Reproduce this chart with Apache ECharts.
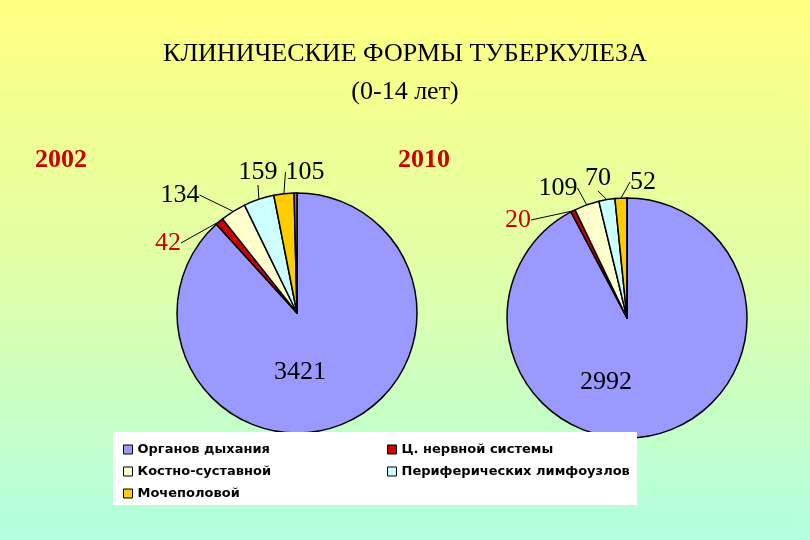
<!DOCTYPE html>
<html><head><meta charset="utf-8">
<script src="https://cdn.jsdelivr.net/npm/echarts@6/dist/echarts.min.js"></script>
<style>html,body{margin:0;padding:0}#main{width:810px;height:540px}</style>
</head><body><div id="main"></div>
<script>
let chart = echarts.init(document.getElementById('main'));

let categories = ['Органов дыхания', 'Ц. нервной системы', 'Костно-суставной', 'Периферических лимфоузлов', 'Мочеполовой', 'Прочие'];
let values2002 = [3421, 42, 134, 159, 105, 15];
let values2010 = [2992, 20, 109, 70, 52, 0];
let colors = ['#9999ff', '#cc0000', '#ffffcc', '#ccffff', '#ffcc00', '#808080'];

// label anchor points, one list per pie
let labelPos = [
	[[300, 372], [168, 243], [180, 195], [258, 172], [305, 172], null],
	[[606, 382], [518, 220], [558, 188], [598, 178], [643, 182], null]
];

function makeData(vals) {
	return vals.map(function (v, i) {
		let item = { name: categories[i], value: v, itemStyle: { color: colors[i] } };
		if (i == 0) {
			item.label = { position: 'inside' };
			item.labelLine = { show: false };
		}
		if (i == 1) item.label = { color: '#cc0000' };
		if (i == 5) { item.label = { show: false }; item.labelLine = { show: false }; }
		return item;
	});
}

function pie(center, vals, k) {
	return {
		type: 'pie',
		center: center,
		radius: 120,
		startAngle: 90,
		clockwise: true,
		silent: true,
		data: makeData(vals),
		itemStyle: { borderColor: '#000', borderWidth: 1.5 },
		label: {
			show: true,
			formatter: '{c}',
			fontFamily: 'Liberation Serif',
			fontSize: 26,
			color: '#000'
		},
		labelLine: { show: true, length: 8, length2: 0, lineStyle: { color: '#000', width: 1 } },
		labelLayout: function (p) {
			let pos = labelPos[k][p.dataIndex];
			if (!pos) return {};
			return { x: pos[0], y: pos[1], align: 'center', verticalAlign: 'middle' };
		}
	};
}

let yearStyle = { fontFamily: 'Liberation Serif', fontSize: 26, fontWeight: 'bold', color: '#cc0000', textShadowColor: '#777', textShadowOffsetX: 2, textShadowOffsetY: 2 };
let legendText = { fontFamily: 'DejaVu Sans', fontSize: 13, fontWeight: 'bold', color: '#000' };

option = {
	backgroundColor: {
		type: 'linear', x: 0, y: 0, x2: 0, y2: 1,
		colorStops: [{ offset: 0, color: '#ffff80' }, { offset: 0.5, color: '#e0ffa8' }, { offset: 1, color: '#b0ffe0' }]
	},
	title: [
		{ text: 'КЛИНИЧЕСКИЕ ФОРМЫ ТУБЕРКУЛЕЗА', left: 'center', top: 36,
			textStyle: { fontFamily: 'Liberation Serif', fontSize: 26, fontWeight: 'normal', color: '#000' } },
		{ text: '(0-14 лет)', left: 'center', top: 74,
			textStyle: { fontFamily: 'Liberation Serif', fontSize: 26, fontWeight: 'normal', color: '#000' } },
		{ text: '2002', left: 30, top: 142, textStyle: yearStyle },
		{ text: '2010', left: 393, top: 142, textStyle: yearStyle }
	],
	graphic: [{ type: 'rect', left: 113, top: 432, shape: { width: 524, height: 73 }, style: { fill: '#fff' }, z: 5 }],
	legend: [{
		data: [categories[0], categories[2], categories[4]],
		orient: 'vertical', left: 118, top: 438,
		itemWidth: 9, itemHeight: 9, itemGap: 9, icon: 'rect', selectedMode: false, z: 10,
		itemStyle: { borderColor: '#000', borderWidth: 1 }, textStyle: legendText
	}, {
		data: [categories[1], categories[3]],
		orient: 'vertical', left: 382, top: 438,
		itemWidth: 9, itemHeight: 9, itemGap: 9, icon: 'rect', selectedMode: false, z: 10,
		itemStyle: { borderColor: '#000', borderWidth: 1 }, textStyle: legendText
	}],
	series: [pie([297, 313], values2002, 0), pie([627, 318], values2010, 1)]
};
chart.setOption(option, true);
</script></body></html>
